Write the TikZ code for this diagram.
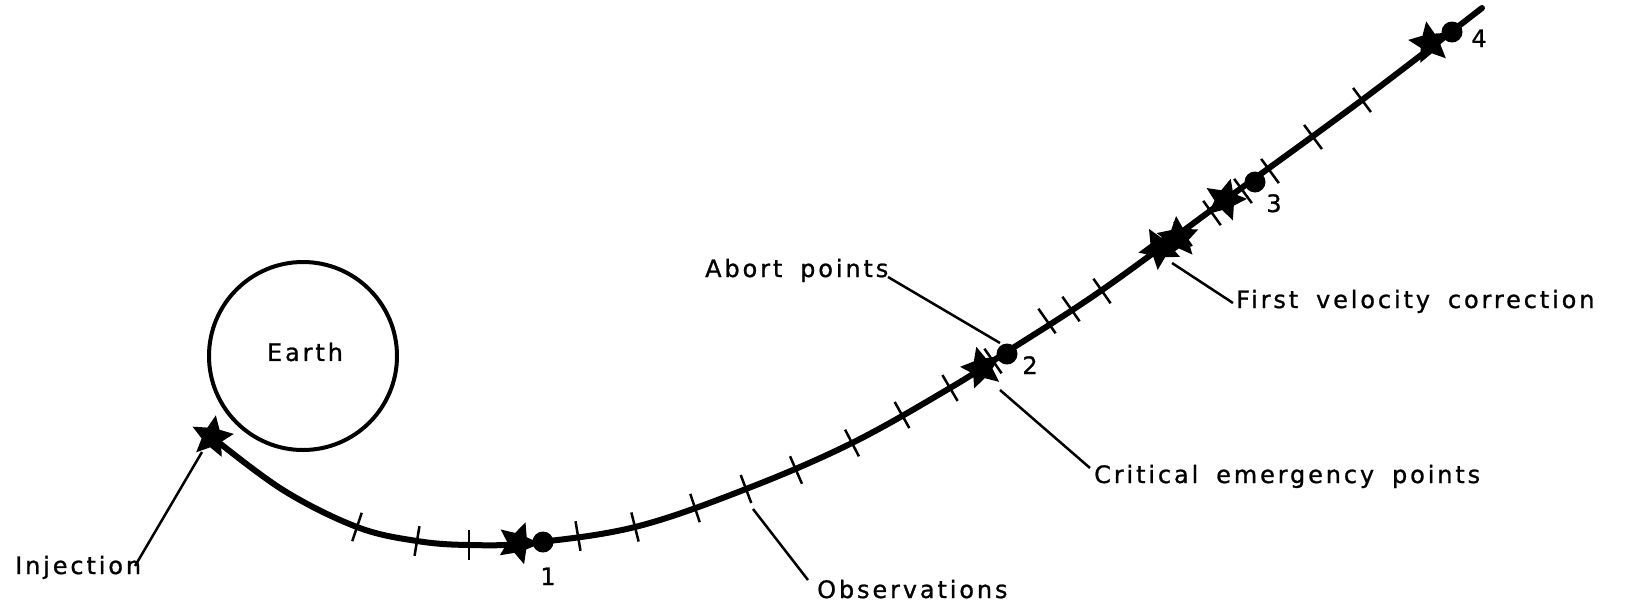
\documentclass[tikz,border=0pt]{standalone}
\usepackage{fontspec}
\newfontfamily\lblfont{DejaVu Sans}[LetterSpace=12, WordSpace=1.7, FakeBold=1]
\usetikzlibrary{shapes.geometric,calc}
\newcommand\tk[4]{\draw[tickmark] ($(#1,#2)!15pt!90:(#1+#3,#2+#4)$) -- ($(#1,#2)!15pt!-90:(#1+#3,#2+#4)$);}
\begin{document}
\begin{tikzpicture}[x=1pt,y=-1pt,
  traj/.style={line width=6pt, line cap=round},
  tickmark/.style={line width=2.5pt},
  leader/.style={line width=2.5pt},
  lbl/.style={font=\lblfont\fontsize{24}{28}\selectfont, inner sep=0pt},
  starmark/.style={star, star points=5, star point ratio=2.1, fill=black, draw=none, minimum size=44pt, inner sep=0pt},
  dotmark/.style={circle, fill=black, minimum size=21pt, inner sep=0pt}]
\useasboundingbox (0,0) rectangle (1631,606);
% Earth
\node[circle, draw, line width=4pt, minimum size=188pt, inner sep=0pt] (earth) at (303,356) {};
\node[lbl] (earthlbl) at (305,352) {Earth};
% trajectory
\draw[traj] plot[smooth, tension=0.6] coordinates {(212,437) (283,490) (357,527) (417,541) (469,545) (530,543) (635,527) (746,489) (852,443) (950,388) (1005,353) (1102,290) (1225,200) (1362,100) (1482,8)};
% ticks
\tk{357}{527}{3}{1}
\tk{417}{541}{6}{1}
\tk{469}{545}{1}{0}
\tk{578}{536}{6}{-1}
\tk{635}{527}{4}{-1}
\tk{695}{508}{3}{-1}
\tk{746}{489}{101}{-38}
\tk{796}{470}{106}{-46}
\tk{852}{443}{106}{-55}
\tk{902}{415}{98}{-55}
\tk{950}{388}{80}{-47}
\tk{993}{361}{10}{-7}
\tk{1047}{321}{10}{-7}
\tk{1071}{309}{10}{-7}
\tk{1102}{291}{10}{-7}
\tk{1183}{234}{10}{-7.2}
\tk{1212}{213}{10}{-7.2}
\tk{1243}{191}{10}{-7.3}
\tk{1270}{171}{10}{-7.3}
\tk{1313}{137}{10}{-7.4}
\tk{1362}{100}{10}{-7.4}
% stars and dots
\node[starmark, rotate=-10] (s0) at (212,437) {};
\node[starmark, rotate=-20] (s1) at (518,543) {};
\node[dotmark] (d1) at (543,542) {};
\node[starmark, rotate=15] (s2) at (982,368) {};
\node[dotmark] (d2) at (1007,354) {};
\node[starmark, rotate=30] (s3a) at (1160,248) {};
\node[starmark, rotate=5] (s3b) at (1178,238) {};
\node[starmark, rotate=-15] (s3c) at (1225,200) {};
\node[dotmark] (d3) at (1255,182) {};
\node[starmark, rotate=10] (s4) at (1430,43) {};
\node[dotmark] (d4) at (1452,32) {};
% point numbers
\node[lbl, anchor=base] (n1) at (548,585) {1};
\node[lbl, anchor=base] (n2) at (1030,374) {2};
\node[lbl, anchor=base] (n3) at (1274,212) {3};
\node[lbl, anchor=base] (n4) at (1479,47) {4};
% labels
\node[lbl, anchor=base west] (inj) at (15,574) {Injection};
\node[lbl, anchor=base west] (obs) at (817,598) {Observations};
\node[lbl, anchor=base west] (crit) at (1094,483) {Critical emergency points};
\node[lbl, anchor=base west] (abort) at (705,277) {Abort points};
\node[lbl, anchor=base west] (fvc) at (1236,308) {First velocity correction};
% leaders
\coordinate (injE) at (135,566);
\coordinate (injT) at (202,452);
\coordinate (obsS) at (753,509);
\coordinate (obsE) at (808,580);
\coordinate (critS) at (1000,390);
\coordinate (critE) at (1090,468);
\coordinate (abS) at (888,277);
\coordinate (abE) at (1000,343);
\coordinate (fvS) at (1172,263);
\coordinate (fvE) at (1233,303);
\draw[leader] (injE) -- (injT);
\draw[leader] (obsS) -- (obsE);
\draw[leader] (critS) -- (critE);
\draw[leader] (abS) -- (abE);
\draw[leader] (fvS) -- (fvE);
\end{tikzpicture}
\end{document}
